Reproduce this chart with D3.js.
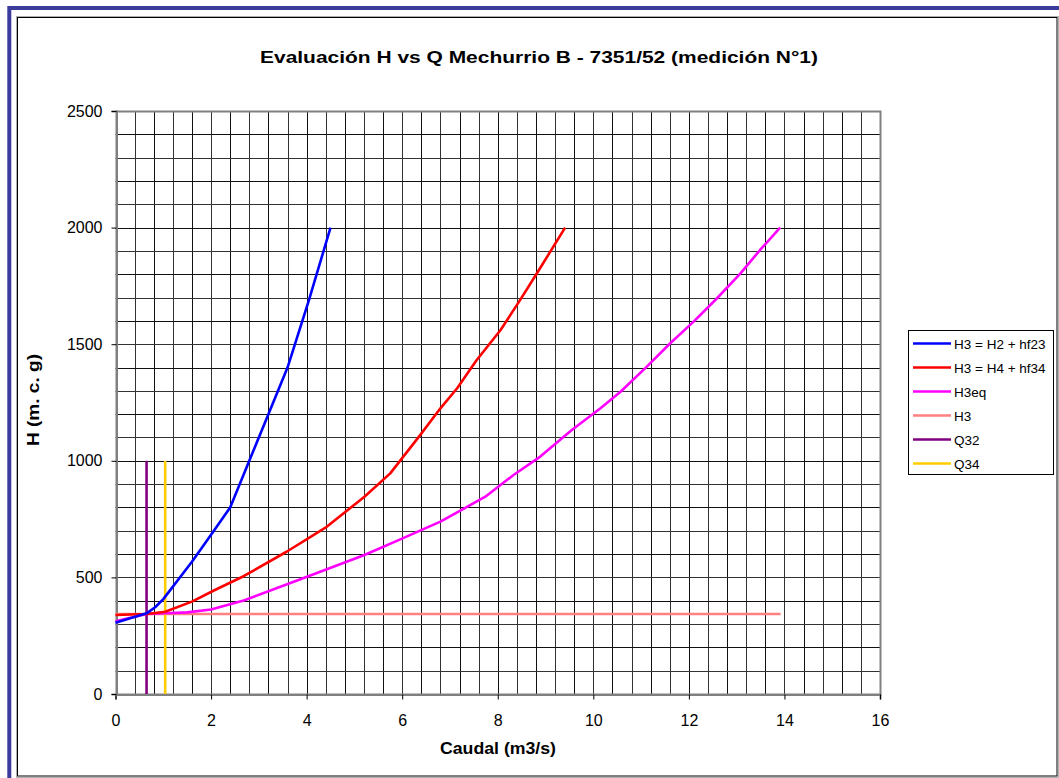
<!DOCTYPE html>
<html>
<head>
<meta charset="utf-8">
<script src="https://cdn.jsdelivr.net/npm/d3@7"></script>
<style>
  html, body { margin: 0; padding: 0; background: #ffffff; }
  svg { display: block; }
  text { font-family: "Liberation Sans", Arial, sans-serif; }
</style>
</head>
<body>
<svg id="chart" width="1059" height="778"></svg>
<script>
// ---------- DATA ----------
const titleText = "Evaluación H vs Q Mechurrio B - 7351/52 (medición N°1)";
const xLabel = "Caudal (m3/s)";
const yLabel = "H (m. c. g)";
const xTicks = [0, 2, 4, 6, 8, 10, 12, 14, 16];
const yTicks = [0, 500, 1000, 1500, 2000, 2500];

const seriesNames = ["H3 = H2 + hf23", "H3 = H4 + hf34", "H3eq", "H3", "Q32", "Q34"];
const seriesColors = ["#0000ff", "#ff0000", "#ff00ff", "#ff8080", "#800080", "#ffcc00"];

// [Q, H]
const blueQ = [0, 0.65, 0.83, 1.0, 1.6, 2.0, 2.4, 2.8, 3.2, 3.6, 4.05, 4.5];
const blueH = [306, 346, 372, 407, 567, 683, 800, 1000, 1200, 1400, 1690, 2000];

const redQ = [0, 0.65, 1.04, 1.6, 2.08, 2.68, 3.58, 4.42, 5.21, 5.75, 6.38, 6.8, 7.15, 7.56, 8.06, 8.47, 8.82, 9.41];
const redH = [339, 343, 353, 396, 446, 505, 610, 717, 846, 946, 1111, 1225, 1311, 1432, 1561, 1690, 1804, 2000];

const magQ = [0, 0.65, 1.04, 1.5, 2.0, 2.7, 3.87, 5.21, 5.96, 6.8, 7.74, 8.33, 8.89, 9.55, 10.15, 10.57, 11.12, 11.61, 12.1, 12.59, 13.08, 13.49, 13.91];
const magH = [312, 343, 346, 350, 362, 402, 492, 596, 663, 739, 846, 939, 1018, 1132, 1225, 1296, 1404, 1504, 1597, 1697, 1804, 1904, 2000];

const h3Q = [0, 13.92];
const h3H = [343, 343];

const q32Q = [0.65, 0.65];
const q32H = [0, 1000];

const q34Q = [1.04, 1.04];
const q34H = [0, 1000];

// ---------- DRAW ----------
const svg = d3.select("#chart");

// outer frame
svg.append("rect").attr("x", 9.3).attr("y", 8).attr("width", 1100).attr("height", 800)
  .attr("fill", "none").attr("stroke", "#3c3c9c").attr("stroke-width", 4);
svg.append("rect").attr("x", 16.5).attr("y", 16.5).attr("width", 1042).attr("height", 761)
  .attr("fill", "none").attr("stroke", "#b0b0b0").attr("stroke-width", 1);
svg.append("rect").attr("x", 17.5).attr("y", 17.5).attr("width", 1039.5).attr("height", 758.5)
  .attr("fill", "#ffffff").attr("stroke", "#000000").attr("stroke-width", 1);

const x = d3.scaleLinear().domain([0, 16]).range([115.5, 880]);
const y = d3.scaleLinear().domain([0, 2500]).range([694, 111]);

const crisp = v => Math.round(v) + 0.5;

// grid
const g = svg.append("g");
const vGrid = d3.range(0, 16.0001, 0.4);
const hGrid = d3.range(0, 2500.1, 100);
g.selectAll("line.vg").data(vGrid).enter().append("line")
  .attr("x1", d => crisp(x(d))).attr("x2", d => crisp(x(d)))
  .attr("y1", y(2500)).attr("y2", y(0))
  .attr("stroke", (d, i) => i % 2 ? "#333" : "#111").attr("stroke-width", 1);
g.selectAll("line.hg").data(hGrid).enter().append("line")
  .attr("y1", d => crisp(y(d))).attr("y2", d => crisp(y(d)))
  .attr("x1", x(0)).attr("x2", x(16))
  .attr("stroke", (d, i) => i % 2 ? "#333" : "#111").attr("stroke-width", 1);

// plot border (gray)
svg.append("rect").attr("x", crisp(x(0))).attr("y", crisp(y(2500)))
  .attr("width", Math.round(x(16)) - Math.round(x(0))).attr("height", Math.round(y(0)) - Math.round(y(2500)))
  .attr("fill", "none").attr("stroke", "#808080").attr("stroke-width", 2);

// axes
const xAxis = d3.axisBottom(x).tickValues(xTicks).tickSize(5).tickPadding(15).tickFormat(d3.format("d"));
const yAxis = d3.axisLeft(y).tickValues(yTicks).tickSize(5).tickPadding(9).tickFormat(d3.format("d"));

const gx = svg.append("g").attr("transform", `translate(0,${crisp(y(0))})`).call(xAxis);
const gy = svg.append("g").attr("transform", `translate(${crisp(x(0))},0)`).call(yAxis);
[gx, gy].forEach(a => {
  a.select(".domain").attr("stroke", "#808080").attr("stroke-width", 2);
  a.selectAll(".tick line").attr("stroke", "#000");
  a.selectAll(".tick text").attr("font-size", 16).attr("fill", "#000")
    .attr("font-family", "'Liberation Sans', Arial, sans-serif");
});

// lines
const line = d3.line().x(d => x(d[0])).y(d => y(d[1]));
const zip = (a, b) => a.map((v, i) => [v, b[i]]);
const seriesData = [
  zip(blueQ, blueH), zip(redQ, redH), zip(magQ, magH),
  zip(h3Q, h3H), zip(q32Q, q32H), zip(q34Q, q34H)
];
const drawOrder = [3, 4, 5, 2, 1, 0];
drawOrder.forEach(i => {
  svg.append("path").datum(seriesData[i]).attr("d", line)
    .attr("fill", "none").attr("stroke", seriesColors[i]).attr("stroke-width", 2.6)
    .attr("stroke-linejoin", "round");
});

// title
svg.append("text").attr("x", 539).attr("y", 63).attr("text-anchor", "middle")
  .attr("font-size", 16.5).attr("font-weight", "bold").attr("fill", "#000")
  .attr("textLength", 558).attr("lengthAdjust", "spacingAndGlyphs")
  .text(titleText);

// axis titles
svg.append("text").attr("x", 498).attr("y", 754).attr("text-anchor", "middle")
  .attr("font-size", 16).attr("font-weight", "bold").attr("fill", "#000")
  .attr("textLength", 116).attr("lengthAdjust", "spacingAndGlyphs")
  .text(xLabel);
svg.append("text").attr("transform", "translate(39,400) rotate(-90)").attr("text-anchor", "middle")
  .attr("font-size", 16).attr("font-weight", "bold").attr("fill", "#000")
  .attr("textLength", 92).attr("lengthAdjust", "spacingAndGlyphs")
  .text(yLabel);

// legend
const lg = svg.append("g");
lg.append("rect").attr("x", 908.5).attr("y", 330.5).attr("width", 145).attr("height", 144)
  .attr("fill", "#fff").attr("stroke", "#000").attr("stroke-width", 1);
const legY = [343.5, 367.5, 391.5, 415.5, 439.5, 463.5];
seriesNames.forEach((n, i) => {
  lg.append("line").attr("x1", 913).attr("x2", 951).attr("y1", legY[i]).attr("y2", legY[i])
    .attr("stroke", seriesColors[i]).attr("stroke-width", 2.6);
  lg.append("text").attr("x", 954).attr("y", legY[i] + 5).attr("font-size", 13.5).attr("fill", "#000")
    .text(n);
});
</script>
</body>
</html>
